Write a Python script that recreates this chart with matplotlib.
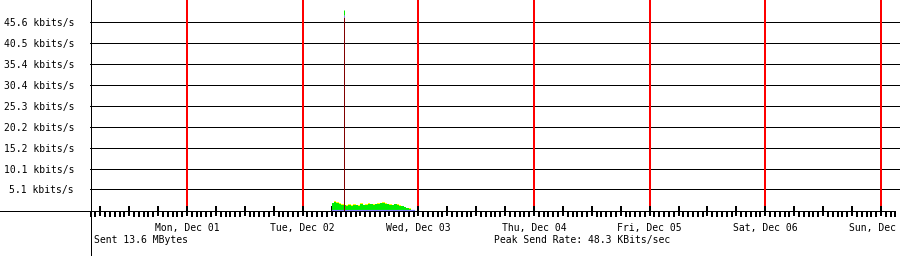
import matplotlib
matplotlib.use('Agg')
import matplotlib.pyplot as plt
from matplotlib.lines import Line2D

# hours are counted from Mon, Dec 01 00:00
day_hours = [0, 24, 48, 72, 96, 120, 144]
day_labels = ['Mon, Dec 01', 'Tue, Dec 02', 'Wed, Dec 03', 'Thu, Dec 04',
              'Fri, Dec 05', 'Sat, Dec 06', 'Sun, Dec 07']

y_ticks = [5.1, 10.1, 15.2, 20.2, 25.3, 30.4, 35.4, 40.5, 45.6]

# half-hour samples, Tue Dec 02 06:00 .. 22:30 (kbits/s)
sample_start = 30.0
sample_step = 0.5
avg_rate = [1.7, 2.0, 1.9, 1.6, 1.4, 1.3, 1.2, 1.3, 1.2, 1.4, 1.3, 1.2,
            1.5, 1.3, 1.4, 1.6, 1.5, 1.3, 1.5, 1.6, 1.7, 1.9, 1.6, 1.5,
            1.4, 1.3, 1.5, 1.4, 1.2, 1.0, 0.8, 0.6, 0.4]
max_rate = [1.9, 2.2, 2.0, 1.8, 1.5, 1.4, 1.3, 1.5, 1.3, 1.6, 1.4, 1.3,
            1.7, 1.4, 1.6, 1.8, 1.6, 1.5, 1.6, 1.8, 1.8, 2.1, 1.8, 1.6,
            1.6, 1.4, 1.6, 1.5, 1.3, 1.2, 0.9, 0.7, 0.5]
recv_rate = [0.1] * 35

spike_hour = 32.6
spike_peak = 48.3

font = 'DejaVu Sans Mono'
fs = 7
px = 0.72  # one pixel in points at 100 dpi

fig = plt.figure(figsize=(9, 2.56), dpi=100)
W, H = 900, 256
base_y = 210.5
ax = fig.add_axes([90 / W, (H - base_y) / H, 810 / W, base_y / H])
ax.set_xlim(-20.13, 147.95)
ax.set_ylim(0, 50.79)
for s in ax.spines.values():
    s.set_visible(False)

# grid + y labels
ax.set_yticks(y_ticks)
ax.set_yticklabels(['%.1f kbits/s' % v for v in y_ticks], fontfamily=font, fontsize=fs)
ax.tick_params(axis='y', length=0, pad=16 * px)
for v in y_ticks:
    ax.axhline(v, color='black', lw=px, zorder=1)

# day lines
for h in day_hours:
    ax.axvline(h, ymin=5.5 / base_y, ymax=1, color='#ff0000', lw=2 * px, zorder=2)

# x ticks: hourly minor, 6-hourly major
ax.set_xticks(list(range(-18, 148, 6)))
ax.set_xticks(list(range(-20, 148)), minor=True)
ax.tick_params(axis='x', which='major', direction='inout', length=10 * px,
               width=2 * px, color='black', labelbottom=False)
ax.tick_params(axis='x', which='minor', direction='out', length=5.5 * px,
               width=2 * px, color='black')

# traffic
t = [sample_start + i * sample_step for i in range(len(avg_rate) + 1)]
ax.fill_between(t, max_rate + [max_rate[-1]], step='post', color='#ffff00', lw=0, zorder=3)
ax.fill_between(t, avg_rate + [avg_rate[-1]], step='post', color='#00ee00', lw=0, zorder=4)
t2 = [sample_start + i * sample_step for i in range(len(recv_rate))]
ax.step(t2, recv_rate, where='post', color='#8080ff', lw=1.2 * px, zorder=5)

ax.vlines(spike_hour, 0, spike_peak - 1.6, color='#800000', lw=px, zorder=6)
ax.vlines(spike_hour, spike_peak - 1.6, spike_peak - 1.1, color='#8080ff', lw=px, zorder=6)
ax.vlines(spike_hour, spike_peak - 1.1, spike_peak, color='#00ee00', lw=px, zorder=6)

# day labels
for h, lab in zip(day_hours, day_labels):
    ax.text(h, -18 / base_y, lab, transform=ax.get_xaxis_transform(),
            ha='center', va='center', fontfamily=font, fontsize=fs, clip_on=False)

# axis lines
fig.add_artist(Line2D([0, 893 / W], [(H - base_y) / H] * 2, color='black', lw=px))
fig.add_artist(Line2D([90.5 / W] * 2, [0, 1], color='black', lw=px))

fig.text(94 / W, 1 - 240 / H, 'Sent 13.6 MBytes', ha='left', va='center',
         fontfamily=font, fontsize=fs)
fig.text(494 / W, 1 - 240 / H, 'Peak Send Rate: 48.3 KBits/sec', ha='left', va='center',
         fontfamily=font, fontsize=fs)

fig.savefig('out.png', dpi=100)
